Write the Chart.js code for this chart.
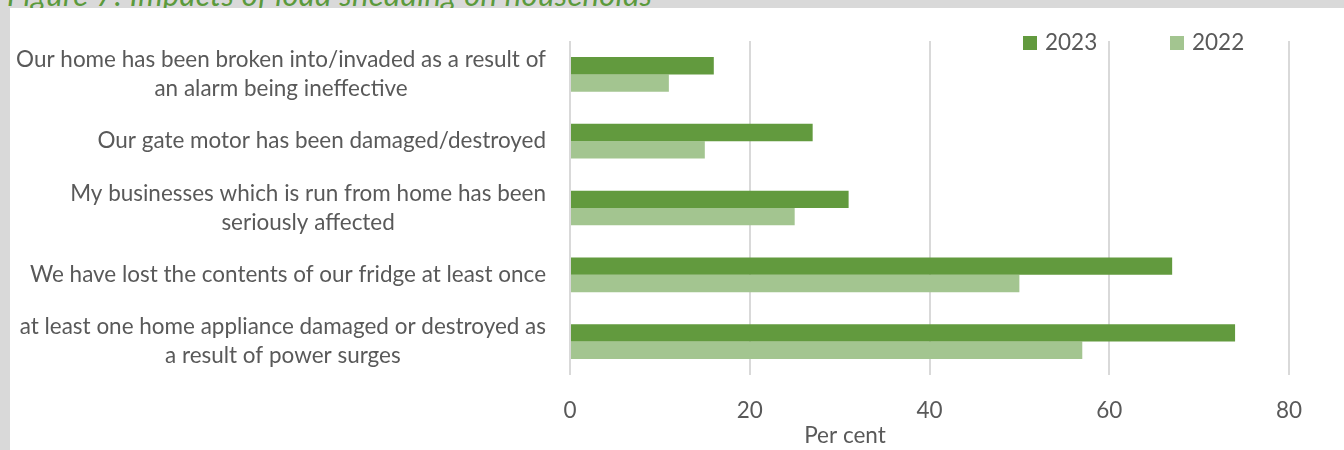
<!DOCTYPE html>
<html>
<head>
<meta charset="utf-8">
<title>Impacts of load shedding on households</title>
<script src="https://cdn.jsdelivr.net/npm/chart.js@4.4.1/dist/chart.umd.min.js"></script>
<style>
    html, body { margin: 0; padding: 0; }
    body {
        width: 1344px; height: 450px; overflow: hidden;
        background: #d9d9d9; position: relative;
        font-family: Lato, sans-serif;
    }
    .fig-title {
        position: absolute; left: 7px; top: -21px;
        font-size: 31px; line-height: 31px; font-style: italic;
        color: #5b9a3c; white-space: nowrap; letter-spacing: 0.3px;
    }
    .panel {
        position: absolute; left: 10px; top: 8px;
        width: 1334px; height: 442px; background: #fff;
    }
    canvas { display: block; }
</style>
</head>
<body>
<div class="fig-title">Figure 7: Impacts of load shedding on households</div>
<div class="panel"><canvas id="impactsChart" width="1334" height="442"></canvas></div>
<script>
const categories = [
    ['Our home has been broken into/invaded as a result of', 'an alarm being ineffective'],
    ['Our gate motor has been damaged/destroyed'],
    ['My businesses which is run from home has been', 'seriously affected'],
    ['We have lost the contents of our fridge at least once'],
    ['at least one home appliance damaged or destroyed as', 'a result of power surges']
];
const seriesNames = ['2023', '2022'];
const values2023 = [16, 27, 31, 67, 74];
const values2022 = [11, 15, 25, 50, 57];
const xTicks = [0, 20, 40, 60, 80];
const axisTitle = 'Per cent';

const fontFamily = 'Lato, sans-serif';
const textColor = '#595959';
const darkGreen = '#629a3e';
const lightGreen = '#a3c590';
const tickSize = 22.5;
const lineHeight = 29;

// size the category font so the widest line spans ~530px
function fitLabelSize(ctx) {
    ctx.save();
    ctx.font = `20px ${fontFamily}`;
    let widest = 0;
    categories.forEach(lines => lines.forEach(l => {
        widest = Math.max(widest, ctx.measureText(l).width);
    }));
    ctx.restore();
    return 20 * 530 / widest;
}

// Excel-style category labels: each block right-aligned, lines centred inside it,
// plus the legend and the axis title
const sideLabels = {
    id: 'sideLabels',
    afterDraw(chart) {
        const ctx = chart.ctx;
        const yScale = chart.scales.y;
        const area = chart.chartArea;
        const labelSize = fitLabelSize(ctx);

        ctx.save();
        ctx.fillStyle = textColor;
        ctx.textBaseline = 'middle';
        ctx.textAlign = 'center';
        ctx.font = `${labelSize}px ${fontFamily}`;
        const right = area.left - 24;
        categories.forEach((lines, i) => {
            const cy = yScale.getPixelForValue(i);
            const blockW = Math.max(...lines.map(l => ctx.measureText(l).width));
            const cx = right - blockW / 2;
            const top = cy - (lines.length - 1) * lineHeight / 2;
            lines.forEach((l, k) => ctx.fillText(l, cx, top + k * lineHeight));
        });

        // legend
        ctx.font = `${tickSize}px ${fontFamily}`;
        ctx.textAlign = 'left';
        let lx = 1013;
        chart.data.datasets.forEach(ds => {
            ctx.fillStyle = ds.backgroundColor;
            ctx.fillRect(lx, 28, 14, 14);
            ctx.fillStyle = textColor;
            ctx.fillText(ds.label, lx + 22, 35);
            lx += 147;
        });

        // axis title
        ctx.textAlign = 'center';
        ctx.fillText(axisTitle, 835, 428);
        ctx.restore();
    }
};

new Chart(document.getElementById('impactsChart'), {
    type: 'bar',
    data: {
        labels: categories,
        datasets: [
            { label: seriesNames[0], data: values2023, backgroundColor: darkGreen },
            { label: seriesNames[1], data: values2022, backgroundColor: lightGreen }
        ]
    },
    options: {
        indexAxis: 'y',
        responsive: false,
        animation: false,
        categoryPercentage: 0.52,
        barPercentage: 1.0,
        layout: { padding: { top: 33, right: 55, left: 0, bottom: 0 } },
        plugins: {
            legend: { display: false },
            tooltip: { enabled: false }
        },
        scales: {
            x: {
                min: xTicks[0],
                max: xTicks[xTicks.length - 1],
                afterBuildTicks: scale => { scale.ticks = xTicks.map(v => ({ value: v })); },
                afterFit: scale => { scale.height = 75; },
                grid: { color: '#d9d9d9', lineWidth: 2, drawTicks: false },
                border: { display: false },
                ticks: {
                    color: textColor,
                    padding: 22,
                    font: { family: fontFamily, size: tickSize }
                }
            },
            y: {
                afterFit: scale => { scale.width = 560; },
                grid: { display: false },
                border: { display: false },
                ticks: { display: false }
            }
        }
    },
    plugins: [sideLabels]
});
</script>
</body>
</html>
